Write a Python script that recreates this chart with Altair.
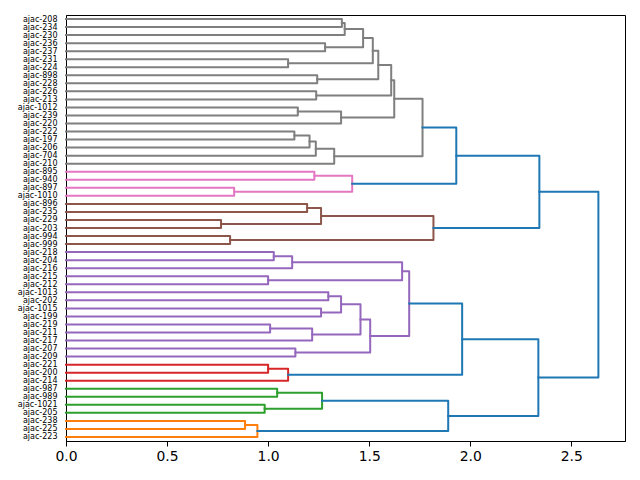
import altair as alt
import pandas as pd

# Leaf labels, listed top to bottom as they appear on the axis
leaf_labels = [
    "ajac-208", "ajac-234", "ajac-230", "ajac-236", "ajac-237", "ajac-231",
    "ajac-224", "ajac-898", "ajac-228", "ajac-226", "ajac-213", "ajac-1012",
    "ajac-239", "ajac-220", "ajac-222", "ajac-197", "ajac-206", "ajac-704",
    "ajac-210", "ajac-895", "ajac-940", "ajac-897", "ajac-1010", "ajac-896",
    "ajac-235", "ajac-229", "ajac-203", "ajac-994", "ajac-999", "ajac-218",
    "ajac-204", "ajac-216", "ajac-215", "ajac-212", "ajac-1013", "ajac-202",
    "ajac-1015", "ajac-199", "ajac-219", "ajac-211", "ajac-217", "ajac-207",
    "ajac-209", "ajac-221", "ajac-200", "ajac-214", "ajac-987", "ajac-989",
    "ajac-1021", "ajac-205", "ajac-238", "ajac-225", "ajac-223",
]

# Linkage: merge k joins merge_left[k] and merge_right[k]
# (a leaf label or the index of an earlier merge) at merge_height[k]
merge_left = [
    "ajac-208", 0, "ajac-236", 1,            # 0-3
    "ajac-231", 3, "ajac-898", 5,            # 4-7
    "ajac-226", 7, "ajac-1012", 10,          # 8-11
    9, "ajac-222", 13, 14,                   # 12-15
    15, 12, "ajac-895", "ajac-897",          # 16-19
    18, 17, "ajac-896", "ajac-229",          # 20-23
    22, "ajac-994", 24, 21,                  # 24-27
    "ajac-218", 28, "ajac-215", 29,          # 28-31
    "ajac-1013", "ajac-1015", 32, "ajac-219",  # 32-35
    35, 34, "ajac-207", 37,                  # 36-39
    31, "ajac-221", 41, 40,                  # 40-43
    "ajac-987", "ajac-1021", 44, "ajac-238",  # 44-47
    47, 46, 43, 27,                          # 48-51
]
merge_right = [
    "ajac-234", "ajac-230", "ajac-237", 2,   # 0-3
    "ajac-224", 4, "ajac-228", 6,            # 4-7
    "ajac-213", 8, "ajac-239", "ajac-220",   # 8-11
    11, "ajac-197", "ajac-206", "ajac-704",  # 12-15
    "ajac-210", 16, "ajac-940", "ajac-1010",  # 16-19
    19, 20, "ajac-235", "ajac-203",          # 20-23
    23, "ajac-999", 25, 26,                  # 24-27
    "ajac-204", "ajac-216", "ajac-212", 30,  # 28-31
    "ajac-202", "ajac-199", 33, "ajac-211",  # 32-35
    "ajac-217", 36, "ajac-209", 38,          # 36-39
    39, "ajac-200", "ajac-214", 42,          # 40-43
    "ajac-989", "ajac-205", 45, "ajac-225",  # 44-47
    "ajac-223", 48, 49, 50,                  # 48-51
]
merge_height = [
    1.365, 1.379, 1.282, 1.470,
    1.099, 1.518, 1.243, 1.545,
    1.238, 1.609, 1.147, 1.361,
    1.624, 1.130, 1.205, 1.236,
    1.327, 1.764, 1.229, 0.832,
    1.416, 1.931, 1.193, 0.767,
    1.262, 0.812, 1.818, 2.342,
    1.028, 1.119, 1.000, 1.663,
    1.298, 1.262, 1.361, 1.010,
    1.218, 1.457, 1.135, 1.505,
    1.698, 1.000, 1.099, 1.960,
    1.045, 0.983, 1.267, 0.886,
    0.947, 1.891, 2.337, 2.634,
]

cluster_palette = ["#ff7f0e", "#2ca02c", "#d62728", "#9467bd", "#8c564b",
                   "#e377c2", "#7f7f7f", "#bcbd22", "#17becf"]
above_color = "#1f77b4"

n = len(leaf_labels)
leaf_pos = {lab: 5 + 10 * (n - 1 - i) for i, lab in enumerate(leaf_labels)}

node_y = []


def child_info(c):
    if isinstance(c, str):
        return leaf_pos[c], 0.0
    return node_y[c], merge_height[c]


for a, b in zip(merge_left, merge_right):
    node_y.append((child_info(a)[0] + child_info(b)[0]) / 2)

# Colour clusters below 70% of the tallest merge
threshold = 0.7 * max(merge_height)
parent = {}
for k, (a, b) in enumerate(zip(merge_left, merge_right)):
    for c in (a, b):
        if not isinstance(c, str):
            parent[c] = k


def cluster_root(k):
    while k in parent and merge_height[parent[k]] < threshold:
        k = parent[k]
    return k


roots = sorted({cluster_root(k) for k in range(len(merge_height))
                if merge_height[k] < threshold}, key=lambda k: node_y[k])
root_color = {r: cluster_palette[i % len(cluster_palette)] for i, r in enumerate(roots)}

rows = []
for k, (a, b, h) in enumerate(zip(merge_left, merge_right, merge_height)):
    ya, ha = child_info(a)
    yb, hb = child_info(b)
    col = root_color[cluster_root(k)] if h < threshold else above_color
    for step, (x, y) in enumerate([(ha, ya), (h, ya), (h, yb), (hb, yb)]):
        rows.append({"link": k, "step": step, "h": x, "y": y, "color": col})
df = pd.DataFrame(rows)

labels_from_bottom = leaf_labels[::-1]
label_expr = ("[" + ",".join(f"'{s}'" for s in labels_from_bottom) +
              "][round((datum.value - 5) / 10)]")

xmax = 1.05 * max(merge_height)

chart = alt.Chart(df).mark_line(
    strokeWidth=2, strokeCap="square", strokeJoin="round"
).encode(
    x=alt.X("h:Q",
            scale=alt.Scale(domain=[0, xmax], nice=False, zero=False),
            axis=alt.Axis(title=None, values=[0, 0.5, 1.0, 1.5, 2.0, 2.5],
                          format=".1f", grid=False, tickSize=5,
                          labelFontSize=13.9, labelPadding=3,
                          labelFlush=False,
                          labelFont="DejaVu Sans", labelColor="black",
                          tickColor="black", domainColor="black")),
    y=alt.Y("y:Q",
            scale=alt.Scale(domain=[0, 10 * n], nice=False, zero=False),
            axis=alt.Axis(title=None, values=[5 + 10 * i for i in range(n)],
                          labelExpr=label_expr, grid=False, ticks=False,
                          labelFontSize=8, labelPadding=9,
                          labelOverlap=False, labelFlush=False,
                          labelFont="DejaVu Sans",
                          labelColor="black", domainColor="black")),
    color=alt.Color("color:N", scale=None),
    detail="link:N",
    order="step:Q",
).properties(
    width=559, height=426,
    autosize=alt.AutoSizeParams(type="none"),
    padding={"left": 66, "top": 15, "right": 15, "bottom": 39},
).configure_view(stroke="black", strokeWidth=1)

chart.save("out.html", embed_options={"renderer": "svg", "actions": False})
